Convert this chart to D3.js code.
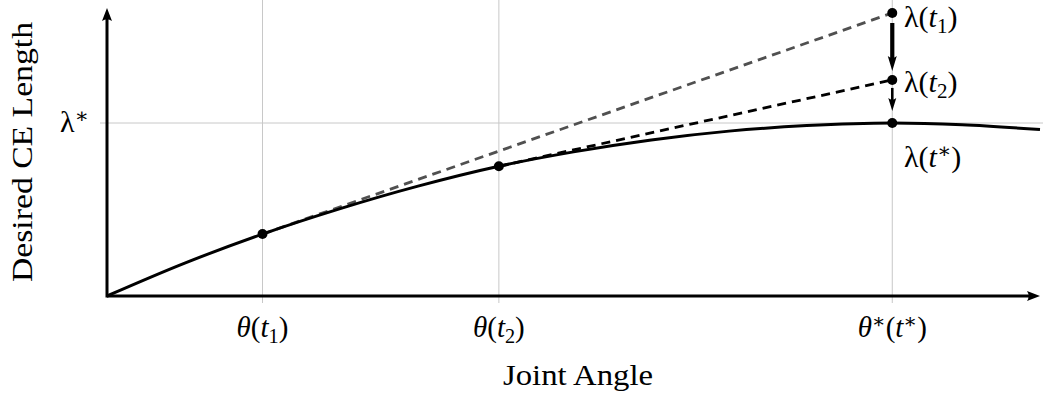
<!DOCTYPE html>
<html>
<head>
<meta charset="utf-8">
<script src="https://cdn.jsdelivr.net/npm/d3@7"></script>
<style>
  html, body { margin: 0; padding: 0; background: #fff; }
  svg { display: block; }
  text { font-family: "Liberation Serif", "DejaVu Serif", serif; fill: #000; }
</style>
</head>
<body>
<svg id="chart" width="1043" height="398"></svg>
<script>
// ---- data ----
const curveTheta  = [0, 0.5, 1.0, 1.5, 2.0, 2.52, 3.0, 3.5, 4.0, 4.5, 5.05, 5.5, 6.0];
const curveLambda = [0, 0.19, 0.358, 0.505, 0.635, 0.75, 0.833, 0.902, 0.953, 0.985, 1.0, 0.99, 0.962];
const markTheta   = [1.0, 2.52, 5.05];          // θ(t1), θ(t2), θ*(t*)
const markLambda  = [0.358, 0.75, 1.0];
const tangentEnd  = [1.636, 1.249];             // λ(t1), λ(t2) at θ*
const lambdaStar  = 1.0;
const xTickLabels = ["θ(t1)", "θ(t2)", "θ*(t*)"];
const xMax = 6.0, yMax = 1.665;

const svg = d3.select("#chart");
const x = d3.scaleLinear().domain([0, xMax]).range([107, 1040]);
const y = d3.scaleLinear().domain([0, 1]).range([296, 123]);

// grid
const grid = svg.append("g").attr("stroke", "#c8c8c8").attr("stroke-width", 1);
markTheta.forEach(t => grid.append("line")
  .attr("x1", x(t)).attr("x2", x(t)).attr("y1", 0).attr("y2", y(0) + 7));
grid.append("line").attr("x1", x(0) - 7).attr("x2", 1043)
  .attr("y1", y(lambdaStar)).attr("y2", y(lambdaStar));

// axes with arrow heads
function arrowHead(g, tx, ty, dir, len, w) {
  const c = Math.cos(dir), s = Math.sin(dir);
  const bx = tx - c * len, by = ty - s * len;
  const px = -s * w / 2, py = c * w / 2;
  g.append("path")
    .attr("d", `M${tx},${ty}L${bx + px},${by + py}Q${tx - c*len*0.75},${ty - s*len*0.75} ${bx - px},${by - py}Z`)
    .attr("fill", "#000");
}
const axes = svg.append("g");
axes.append("line").attr("x1", x(0)).attr("x2", x(xMax) - 6)
  .attr("y1", y(0)).attr("y2", y(0)).attr("stroke", "#000").attr("stroke-width", 3);
arrowHead(axes, x(xMax), y(0), 0, 13, 10);
axes.append("line").attr("x1", x(0)).attr("x2", x(0))
  .attr("y1", y(0) + 1.5).attr("y2", y(yMax) + 6).attr("stroke", "#000").attr("stroke-width", 3);
arrowHead(axes, x(0), y(yMax), -Math.PI / 2, 13, 10);

// tangent lines
svg.append("line")
  .attr("x1", x(markTheta[0])).attr("y1", y(markLambda[0]))
  .attr("x2", x(markTheta[2])).attr("y2", y(tangentEnd[0]))
  .attr("stroke", "#505050").attr("stroke-width", 2.8).attr("stroke-dasharray", "9,6");
svg.append("line")
  .attr("x1", x(markTheta[1])).attr("y1", y(markLambda[1]))
  .attr("x2", x(markTheta[2])).attr("y2", y(tangentEnd[1]))
  .attr("stroke", "#000").attr("stroke-width", 2.8).attr("stroke-dasharray", "9,6");

// curve
const pts = curveTheta.map((t, i) => [t, curveLambda[i]]);
svg.append("path").datum(pts)
  .attr("d", d3.line().x(d => x(d[0])).y(d => y(d[1])).curve(d3.curveMonotoneX))
  .attr("fill", "none").attr("stroke", "#000").attr("stroke-width", 3);

// vertical arrows
const ax = x(markTheta[2]);
svg.append("line").attr("x1", ax).attr("x2", ax)
  .attr("y1", y(tangentEnd[0]) + 10).attr("y2", y(tangentEnd[1]) - 20)
  .attr("stroke", "#000").attr("stroke-width", 4.2);
arrowHead(svg, ax, y(tangentEnd[1]) - 9, Math.PI / 2, 15, 9);
svg.append("line").attr("x1", ax).attr("x2", ax)
  .attr("y1", y(tangentEnd[1]) + 8).attr("y2", y(lambdaStar) - 22)
  .attr("stroke", "#000").attr("stroke-width", 2.6);
arrowHead(svg, ax, y(lambdaStar) - 12, Math.PI / 2, 13, 8);

// dots
const dots = markTheta.map((t, i) => [t, markLambda[i]])
  .concat([[markTheta[2], tangentEnd[0]], [markTheta[2], tangentEnd[1]]]);
svg.selectAll("circle.dot").data(dots).enter().append("circle")
  .attr("class", "dot").attr("cx", d => x(d[0])).attr("cy", d => y(d[1]))
  .attr("r", 5).attr("fill", "#000");

function mathText(g, px, py, parts, size, anchor) {
  const t = g.append("text").attr("x", px).attr("y", py)
    .attr("font-size", size).attr("text-anchor", anchor || "start");
  parts.forEach(([s, st]) => {
    const ts = t.append("tspan").text(s);
    if (st === "i") ts.attr("font-style", "italic");
    if (st === "sub") ts.attr("font-size", size * 0.7).attr("dy", size * 0.2);
    if (st === "subend") ts.attr("dy", -size * 0.2);
    if (st === "sup") ts.attr("font-size", size * 0.7).attr("dy", -size * 0.3);
    if (st === "supend") ts.attr("dy", size * 0.3);
  });
  return t;
}
const FS = 29, FL = 30;
const labels = svg.append("g");
const tickParts = [
  [["θ", "i"], ["(", "r"], ["t", "i"], ["1", "sub"], [")", "subend"]],
  [["θ", "i"], ["(", "r"], ["t", "i"], ["2", "sub"], [")", "subend"]],
  [["θ", "i"], ["∗", "sup"], ["(", "supend"], ["t", "i"], ["∗", "sup"], [")", "supend"]]
];
markTheta.forEach((t, i) => mathText(labels, x(t), 337, tickParts[i], FS, "middle")
  .attr("aria-label", xTickLabels[i]));

mathText(labels, 904, 27, [["λ", "r"], ["(", "r"], ["t", "i"], ["1", "sub"], [")", "subend"]], FL);
mathText(labels, 904, 92, [["λ", "r"], ["(", "r"], ["t", "i"], ["2", "sub"], [")", "subend"]], FL);
mathText(labels, 904, 167, [["λ", "r"], ["(", "r"], ["t", "i"], ["∗", "sup"], [")", "supend"]], FL);
mathText(labels, 60, 132, [["λ", "r"], ["∗", "sup"]], FL);

labels.append("text").attr("x", 578).attr("y", 385).attr("text-anchor", "middle")
  .attr("font-size", FS).attr("textLength", 150).attr("lengthAdjust", "spacingAndGlyphs")
  .text("Joint Angle");
labels.append("text").attr("transform", "translate(32,152) rotate(-90)")
  .attr("text-anchor", "middle").attr("font-size", FS)
  .attr("textLength", 260).attr("lengthAdjust", "spacingAndGlyphs")
  .text("Desired CE Length");
</script>
</body>
</html>
